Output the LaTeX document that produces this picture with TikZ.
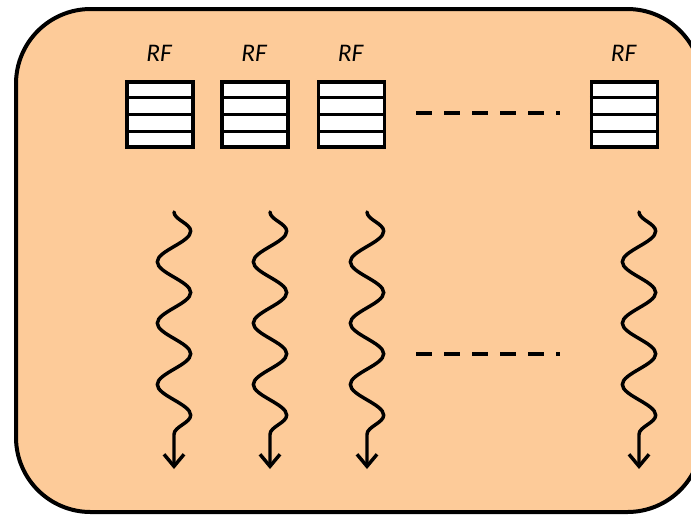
\documentclass[tikz,border=0pt]{standalone}
\usepackage{fontspec}
\setsansfont{Carlito}
\usetikzlibrary{calc,decorations.pathmorphing,arrows.meta}
\definecolor{peach}{RGB}{253,203,153}
\tikzset{
	panel/.style={draw,line width=3pt,fill=peach,rounded corners=56pt},
	regbox/.style={draw,line width=2.4pt,fill=white,minimum width=49.5pt,minimum height=48.75pt,inner sep=0pt},
	rftext/.style={font=\sffamily\itshape\fontsize{19}{22}\selectfont},
	dots/.style={line width=3pt,dash pattern=on 12pt off 9pt},
	wave/.style={line width=2.6pt,line cap=round,decorate,
		decoration={snake,segment length=46pt,amplitude=12.5pt,post length=20pt},
		-{Straight Barb[length=9pt,width=15pt,line width=2.6pt]}}
}
\begin{document}
\begin{tikzpicture}[x=0.75pt,y=-0.75pt]
	\useasboundingbox (0,0) rectangle (691,522);
	\clip (0,0) rectangle (691,522);
	\draw[panel] (16,9) rectangle (702,512);
	% register files
	\foreach \n/\x in {1/160,2/255,3/351.5,4/624.5}{
	\node[regbox] (rf\n) at (\x,114.5) {};
	\foreach \k in {1,2,3}
	\draw[line width=2.4pt] ($(rf\n.north west)!\k/4!(rf\n.south west)$)--($(rf\n.north east)!\k/4!(rf\n.south east)$);
	\node[rftext] (t\n) at (\x-1,53) {RF};
	}
	\path (416,113) coordinate (d1a)
	(560,113) coordinate (d1b)
	(416,354) coordinate (d2a)
	(560,354) coordinate (d2b);
	\draw[dots] (d1a)--(d1b);
	\draw[dots] (d2a)--(d2b);
	% threads
	\foreach \n/\x in {1/174,2/270,3/367,4/639}{
	\path (\x,212) coordinate (w\n a) (\x,469) coordinate (w\n b);
	\draw[wave] (w\n a)--(w\n b);
	}
\end{tikzpicture}
\end{document}
